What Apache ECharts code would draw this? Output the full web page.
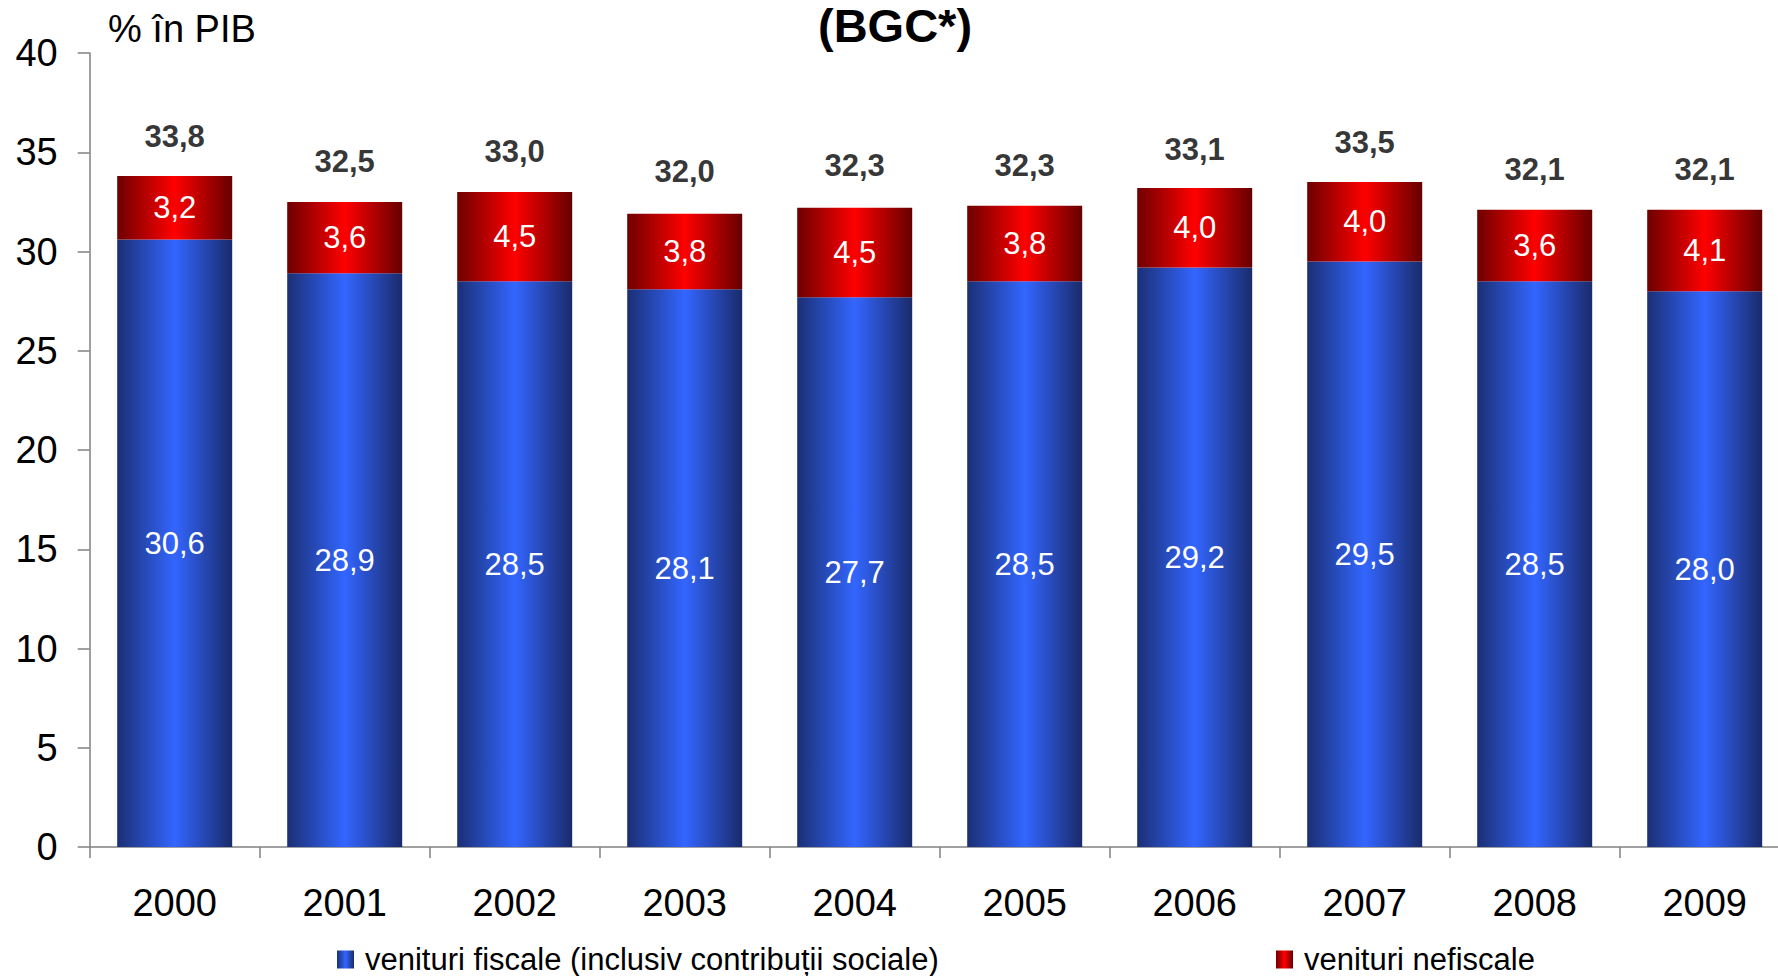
<!DOCTYPE html>
<html>
<head>
<meta charset="utf-8">
<script src="https://cdn.jsdelivr.net/npm/echarts@6/dist/echarts.min.js"></script>
<style>
  html, body { margin: 0; padding: 0; background: #fff; }
  #main { width: 1778px; height: 976px; }
</style>
</head>
<body>
<div id="main"></div>
<script>
// ani
var years = ['2000', '2001', '2002', '2003', '2004', '2005', '2006', '2007', '2008', '2009'];
// venituri fiscale (% in PIB)
var fiscale = [30.6, 28.9, 28.5, 28.1, 27.7, 28.5, 29.2, 29.5, 28.5, 28.0];
// venituri nefiscale (% in PIB)
var nefiscale = [3.2, 3.6, 4.5, 3.8, 4.5, 3.8, 4.0, 4.0, 3.6, 4.1];
// total (eticheta de deasupra)
var totaluri = [33.8, 32.5, 33.0, 32.0, 32.3, 32.3, 33.1, 33.5, 32.1, 32.1];
var yTicks = [0, 5, 10, 15, 20, 25, 30, 35, 40];

var FONT = '"Liberation Sans", Arial, sans-serif';
var numFmt = function (v) { return Number(v).toFixed(1).replace('.', ','); };

var chart = echarts.init(document.getElementById('main'), null, { renderer: 'svg' });

var blueGrad = new echarts.graphic.LinearGradient(0, 0, 1, 0, [
  { offset: 0, color: '#1b2f74' },
  { offset: 0.5, color: '#3366ff' },
  { offset: 1, color: '#1a2b6a' }
]);
var redGrad = new echarts.graphic.LinearGradient(0, 0, 1, 0, [
  { offset: 0, color: '#6e0000' },
  { offset: 0.5, color: '#ff0000' },
  { offset: 1, color: '#660000' }
]);

var option = {
  animation: false,
  textStyle: { fontFamily: FONT },
  title: {
    text: '(BGC*)',
    left: 818,
    top: 1,
    padding: 0,
    textStyle: { fontSize: 47, fontWeight: 'bold', color: '#000', fontFamily: FONT, lineHeight: 48 }
  },
  graphic: [{
    type: 'text',
    left: 108,
    top: 10,
    style: { text: '% în PIB', font: '38px ' + FONT, fill: '#000' }
  }],
  legend: [{
    data: ['venituri fiscale (inclusiv contribuții sociale)'],
    left: 337,
    top: 944,
    padding: 0,
    icon: 'rect',
    itemWidth: 17,
    itemHeight: 18,
    selectedMode: false,
    textStyle: { fontSize: 31, color: '#000', fontFamily: FONT, padding: [0, 0, 0, 6] }
  }, {
    data: ['venituri nefiscale'],
    left: 1276,
    top: 944,
    padding: 0,
    icon: 'rect',
    itemWidth: 17,
    itemHeight: 18,
    selectedMode: false,
    textStyle: { fontSize: 31, color: '#000', fontFamily: FONT, padding: [0, 0, 0, 6] }
  }],
  grid: { left: 89.7, width: 1700, top: 53, bottom: 129, containLabel: false, outerBoundsMode: 'none' },
  xAxis: {
    type: 'category',
    data: years,
    axisLine: { lineStyle: { color: '#808080', width: 1.5 } },
    axisTick: { show: true, length: 11, lineStyle: { color: '#808080', width: 1.5 } },
    axisLabel: { fontSize: 38, color: '#000', margin: 37, fontFamily: FONT }
  },
  yAxis: {
    type: 'value',
    min: yTicks[0],
    max: yTicks[yTicks.length - 1],
    interval: 5,
    axisLine: { show: true, lineStyle: { color: '#808080', width: 1.5 } },
    axisTick: { show: true, length: 12, lineStyle: { color: '#808080', width: 1.5 } },
    splitLine: { show: false },
    axisLabel: { fontSize: 38, color: '#000', margin: 32, fontFamily: FONT }
  },
  series: [{
    name: 'venituri fiscale (inclusiv contribuții sociale)',
    type: 'bar',
    stack: 'total',
    barWidth: 115,
    data: fiscale,
    itemStyle: { color: blueGrad },
    label: {
      show: true,
      position: 'inside',
      color: '#fff',
      fontSize: 31,
      fontFamily: FONT,
      textBorderWidth: 0,
      formatter: function (p) { return numFmt(p.value); }
    }
  }, {
    name: 'venituri nefiscale',
    type: 'bar',
    stack: 'total',
    barWidth: 115,
    data: nefiscale,
    itemStyle: { color: redGrad },
    label: {
      show: true,
      position: 'inside',
      color: '#fff',
      fontSize: 31,
      fontFamily: FONT,
      textBorderWidth: 0,
      formatter: function (p) { return numFmt(p.value); }
    }
  }, {
    name: 'total',
    type: 'scatter',
    data: totaluri,
    symbolSize: 1,
    itemStyle: { color: 'rgba(0,0,0,0)' },
    label: {
      show: true,
      position: 'top',
      distance: 24,
      color: '#000',
      fontSize: 31,
      fontWeight: 'bold',
      fontFamily: FONT,
      formatter: function (p) { return numFmt(totaluri[p.dataIndex]); }
    }
  }]
};

chart.setOption(option);
</script>
</body>
</html>
